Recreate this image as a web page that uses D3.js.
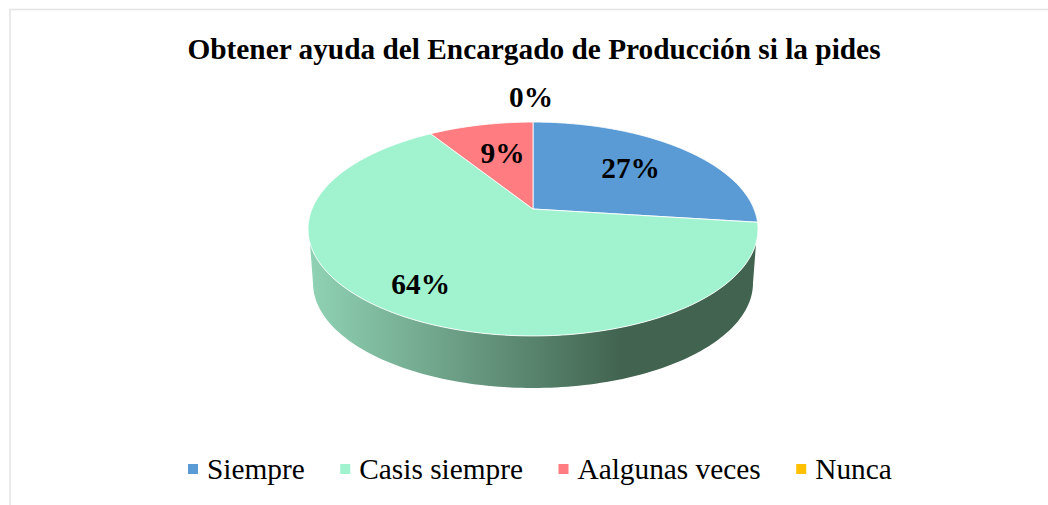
<!DOCTYPE html>
<html>
<head>
<meta charset="utf-8">
<script src="https://cdnjs.cloudflare.com/ajax/libs/d3/7.8.5/d3.min.js"></script>
<style>
  html, body { margin: 0; padding: 0; background: #fff; }
  svg { display: block; font-family: "Liberation Serif", serif; }
</style>
</head>
<body>
<svg id="chart" width="1048" height="505"></svg>
<script>
// Data
const chartTitle = "Obtener ayuda del Encargado de Producción si la pides";
const categories = ["Siempre", "Casis siempre", "Aalgunas veces", "Nunca"];
const shares = [27, 64, 9, 0];
const sliceColors = ["#5B9BD5", "#A1F3D0", "#FF7C80", "#FFC000"];

// How far along the radius each percent label sits, plus a small nudge
const labelRadius = [0.6, 0.78, 0.6, 1.36];
const labelNudge = [[5, -3], [-7, -3], [3, -2], [-2, 0]];

const svg = d3.select("#chart");

// Frame of the chart area, only top and left show in the crop
svg.append("path")
  .attr("d", "M10,505V9.5H1048")
  .attr("fill", "none")
  .attr("stroke", "#e4e4e4")
  .attr("stroke-width", 1.5);

svg.append("text")
  .attr("x", 534)
  .attr("y", 59)
  .attr("text-anchor", "middle")
  .attr("font-size", 29.33)
  .attr("font-weight", "bold")
  .attr("fill", "#000")
  .text(chartTitle);

// Tilted pie: unit circle through a perspective map, apex at (cx, apexY)
const cx = 533, apexY = 209;
const scaleX = 221, scaleY = 103.2, tilt = -0.187;

const project = (angle, r = 1) => {
  const u = Math.sin(angle) * r;
  const v = -Math.cos(angle) * r;
  const w = 1 + tilt * v;
  return [cx + scaleX * u / w, apexY + scaleY * v / w];
};

const line = d3.line();

// Side wall, between the rim ellipse and a slightly narrower lower ellipse
const rim = { y: 229, rx: 225, ry: 107 };
const base = { y: 283, rx: 220, ry: 105 };
const ellipsePoint = (e, deg) => [
  cx + e.rx * Math.cos(deg * Math.PI / 180),
  e.y + e.ry * Math.sin(deg * Math.PI / 180)
];

const wallPoints = [
  ...d3.range(7.5, 172.6, 1.5).map((d) => ellipsePoint(rim, d)),
  ...d3.range(180, -0.1, -1.5).map((d) => ellipsePoint(base, d))
];

const defs = svg.append("defs");
const wallGradient = defs.append("linearGradient")
  .attr("id", "wall-shade")
  .attr("gradientUnits", "userSpaceOnUse")
  .attr("x1", 310).attr("x2", 757)
  .attr("y1", 0).attr("y2", 0);
wallGradient.append("stop").attr("offset", "0").attr("stop-color", "#90D2B4");
wallGradient.append("stop").attr("offset", "0.7").attr("stop-color", "#41634F");
wallGradient.append("stop").attr("offset", "1").attr("stop-color", "#41634F");

svg.append("path")
  .attr("d", line(wallPoints) + "Z")
  .attr("fill", "url(#wall-shade)");

// Slices on top
const pie = d3.pie().sort(null).value((d) => d);
const arcs = pie(shares);

const slicePath = (d) => {
  const steps = d3.range(d.startAngle, d.endAngle, 0.01).concat(d.endAngle);
  return line([[cx, apexY], ...steps.map((a) => project(a))]) + "Z";
};

svg.append("g")
  .selectAll("path")
  .data(arcs.filter((d) => d.value > 0))
  .enter().append("path")
  .attr("d", slicePath)
  .attr("fill", (d) => sliceColors[d.index])
  .attr("stroke", "#fff")
  .attr("stroke-opacity", 0.85)
  .attr("stroke-width", 1)
  .attr("stroke-linejoin", "round");

// Percent labels
svg.append("g")
  .selectAll("text")
  .data(arcs)
  .enter().append("text")
  .attr("x", (d) => project((d.startAngle + d.endAngle) / 2, labelRadius[d.index])[0] + labelNudge[d.index][0])
  .attr("y", (d) => project((d.startAngle + d.endAngle) / 2, labelRadius[d.index])[1] + 10 + labelNudge[d.index][1])
  .attr("text-anchor", "middle")
  .attr("font-size", 29.33)
  .attr("font-weight", "bold")
  .attr("fill", "#000")
  .text((d) => d.value + "%");

// Legend, laid out by measuring the text
const legend = svg.append("g");
let legendX = 188;
categories.forEach((name, i) => {
  legend.append("rect")
    .attr("x", legendX)
    .attr("y", 464)
    .attr("width", 10)
    .attr("height", 10)
    .attr("fill", sliceColors[i]);
  const label = legend.append("text")
    .attr("x", legendX + 19)
    .attr("y", 479)
    .attr("font-size", 29.33)
    .attr("fill", "#000")
    .text(name);
  legendX += 19 + label.node().getComputedTextLength() + 35.5;
});
</script>
</body>
</html>
